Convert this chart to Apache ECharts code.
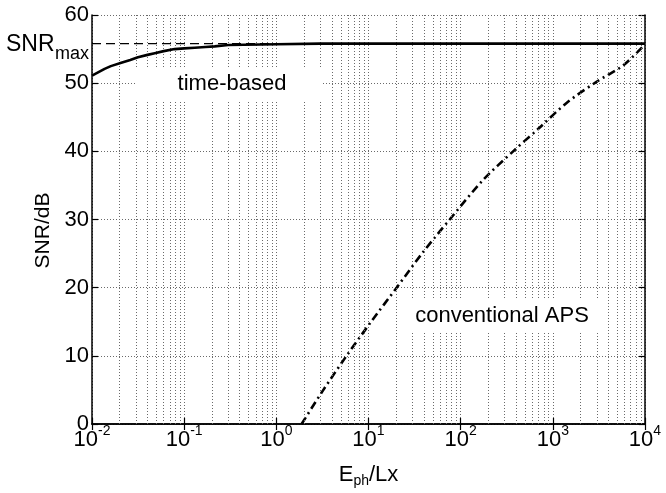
<!DOCTYPE html>
<html>
<head>
<meta charset="utf-8">
<script src="https://cdn.jsdelivr.net/npm/echarts@6/dist/echarts.min.js"></script>
<style>
html,body{margin:0;padding:0;background:#fff;}
#c{width:666px;height:493px;}
</style>
</head>
<body>
<div id="c"></div>
<script>
// ---- data ----
var xMin = 0.01, xMax = 10000;
var yMin = 0, yMax = 60, yStep = 10;
var SNR_MAX = 55.8;

var timeE   = [0.01, 0.0137, 0.016, 0.0208, 0.026, 0.0315, 0.040, 0.0479, 0.060, 0.0789, 0.10, 0.130, 0.17, 0.214, 0.30, 1, 3, 10000];
var timeSNR = [51.1, 52.1,   52.5,  53.0,   53.4,  53.8,   54.15, 54.4,   54.7,  55.0,   55.1, 55.2,  55.3, 55.4,  55.6, 55.7, 55.8, 55.8];

var apsE   = [1.88, 3.2, 5.78, 10.8, 20.2, 39, 76, 175, 371, 721, 1409, 2979, 5794, 10000];
var apsSNR = [0,    4.9, 10,   15.1, 20,   25.2, 30, 35.8, 40, 43.5, 47.1, 50.2, 52.6, 55.7];

var snrMaxE = [0.01, 10000];

var decades = [0.01, 0.1, 1, 10, 100, 1000];
var minorMultipliers = [2, 3, 4, 5, 6, 7, 8, 9];

// ---- build ----
function pairs(xs, ys) { return xs.map(function (x, i) { return [x, ys[i]]; }); }
var minorGrid = [];
decades.forEach(function (d) {
  minorMultipliers.forEach(function (m) { minorGrid.push({ xAxis: d * m }); });
});

var FONT = 'Liberation Sans, Arial, Helvetica, sans-serif';
var gridStyle = { color: '#6a6a6a', width: 1, type: [1, 2] };

var chart = echarts.init(document.getElementById('c'), null, { renderer: 'canvas' });

var option = {
  animation: false,
  backgroundColor: '#fff',
  textStyle: { fontFamily: FONT },
  grid: { left: 92, right: 21, top: 15, bottom: 61, containLabel: false },
  xAxis: [{
    type: 'log', logBase: 10, min: xMin, max: xMax,
    position: 'bottom',
    axisLine: { show: true, lineStyle: { color: '#000', width: 1.5 } },
    axisTick: { show: true, inside: true, length: 6, lineStyle: { color: '#000', width: 1.2 } },
    splitLine: { show: true, lineStyle: gridStyle },
    axisLabel: {
      margin: 5, color: '#000',
      formatter: function (v) {
        var e = Math.round(Math.log10(v));
        return '{b|10}{s|' + e + '}';
      },
      rich: {
        b: { fontSize: 22, fontFamily: FONT, color: '#000', lineHeight: 22 },
        s: { fontSize: 14, fontFamily: FONT, color: '#000', lineHeight: 14, padding: [0, 0, 18, 0] }
      }
    },
    name: '{a|E}{s|ph}{a|/Lx}',
    nameLocation: 'middle', nameGap: 40,
    nameTextStyle: {
      rich: {
        a: { fontSize: 22, fontFamily: FONT, color: '#000', lineHeight: 22 },
        s: { fontSize: 14, fontFamily: FONT, color: '#000', lineHeight: 14, padding: [12, 0, 0, 0] }
      }
    }
  }, {
    type: 'log', logBase: 10, min: xMin, max: xMax,
    position: 'top',
    axisLine: { show: true, lineStyle: { color: '#000', width: 1.5 } },
    axisTick: { show: true, inside: true, length: 6, lineStyle: { color: '#000', width: 1.2 } },
    splitLine: { show: false },
    axisLabel: { show: false }
  }],
  yAxis: [{
    type: 'value', min: yMin, max: yMax, interval: yStep,
    position: 'left',
    axisLine: { show: true, lineStyle: { color: '#000', width: 1.5 } },
    axisTick: { show: true, inside: true, length: 6, lineStyle: { color: '#000', width: 1.2 } },
    splitLine: { show: true, lineStyle: gridStyle },
    axisLabel: { margin: 3, fontSize: 22, fontFamily: FONT, color: '#000' },
    name: 'SNR/dB', nameLocation: 'middle', nameGap: 34, nameRotate: 90,
    nameTextStyle: { fontSize: 21, fontFamily: FONT, color: '#000', padding: [0, 22, 0, 0] }
  }, {
    type: 'value', min: yMin, max: yMax, interval: yStep,
    position: 'right',
    axisLine: { show: true, lineStyle: { color: '#000', width: 1.5 } },
    axisTick: { show: true, inside: true, length: 6, lineStyle: { color: '#000', width: 1.2 } },
    splitLine: { show: false },
    axisLabel: { show: false }
  }],
  series: [{
    name: 'minor grid',
    type: 'line', xAxisIndex: 0, yAxisIndex: 0,
    data: [], z: 1, silent: true,
    markLine: {
      silent: true, symbol: ['none', 'none'], label: { show: false },
      lineStyle: gridStyle, animation: false,
      data: minorGrid
    }
  }, {
    name: 'SNRmax',
    type: 'line', xAxisIndex: 0, yAxisIndex: 0, z: 3,
    data: snrMaxE.map(function (x) { return [x, SNR_MAX]; }),
    showSymbol: false, symbol: 'none',
    lineStyle: { color: '#000', width: 1.2, type: [9, 5] }
  }, {
    name: 'conventional APS',
    type: 'line', xAxisIndex: 0, yAxisIndex: 0, z: 4,
    data: pairs(apsE, apsSNR),
    showSymbol: false, symbol: 'none', smooth: 0.3,
    lineStyle: { color: '#000', width: 2.6, type: [8, 4, 2, 4] }
  }, {
    name: 'time-based',
    type: 'line', xAxisIndex: 0, yAxisIndex: 0, z: 5,
    data: pairs(timeE, timeSNR),
    showSymbol: false, symbol: 'none', smooth: false,
    lineStyle: { color: '#000', width: 2.6, join: 'round' }
  }],
  graphic: [
    { type: 'rect', z: 50, shape: { x: 135, y: 67, width: 188, height: 33 }, style: { fill: '#fff' } },
    { type: 'text', z: 51, x: 232, y: 84, style: { text: 'time-based', font: '22px ' + FONT, fill: '#000', align: 'center', verticalAlign: 'middle' } },
    { type: 'rect', z: 50, shape: { x: 401, y: 298, width: 205, height: 35 }, style: { fill: '#fff' } },
    { type: 'text', z: 51, x: 502, y: 316, style: { text: 'conventional APS', font: '22px ' + FONT, fill: '#000', align: 'center', verticalAlign: 'middle' } },
    { type: 'text', z: 51, x: 6, y: 45, style: { text: 'SNR', font: '23px ' + FONT, fill: '#000', align: 'left', verticalAlign: 'middle' } },
    { type: 'text', z: 51, x: 55, y: 54, style: { text: 'max', font: '18px ' + FONT, fill: '#000', align: 'left', verticalAlign: 'middle' } }
  ]
};
chart.setOption(option);
</script>
</body>
</html>
